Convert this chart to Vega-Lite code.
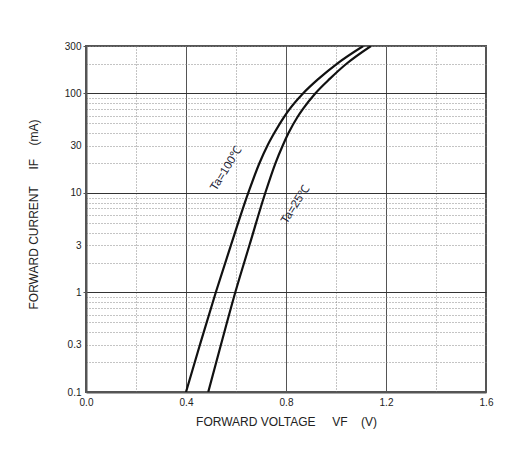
{
  "$schema": "https://vega.github.io/schema/vega-lite/v6.json",
  "width": 400,
  "height": 346,
  "autosize": "none",
  "padding": {"left": 86, "top": 46, "right": 40, "bottom": 74},
  "background": "white",
  "config": {
    "font": "Liberation Sans",
    "view": {"stroke": "#555", "strokeWidth": 2}
  },
  "datasets": {
    "curves": [
      {"t": "Ta=100℃", "v": 0.400, "i": 0.1},
      {"t": "Ta=100℃", "v": 0.456, "i": 0.3},
      {"t": "Ta=100℃", "v": 0.519, "i": 1},
      {"t": "Ta=100℃", "v": 0.580, "i": 3},
      {"t": "Ta=100℃", "v": 0.649, "i": 10},
      {"t": "Ta=100℃", "v": 0.694, "i": 20},
      {"t": "Ta=100℃", "v": 0.726, "i": 30},
      {"t": "Ta=100℃", "v": 0.753, "i": 40},
      {"t": "Ta=100℃", "v": 0.792, "i": 58},
      {"t": "Ta=100℃", "v": 0.815, "i": 70},
      {"t": "Ta=100℃", "v": 0.868, "i": 100},
      {"t": "Ta=100℃", "v": 0.931, "i": 141},
      {"t": "Ta=100℃", "v": 1.005, "i": 200},
      {"t": "Ta=100℃", "v": 1.109, "i": 300},
      {"t": "Ta=25℃", "v": 0.489, "i": 0.1},
      {"t": "Ta=25℃", "v": 0.540, "i": 0.3},
      {"t": "Ta=25℃", "v": 0.597, "i": 1},
      {"t": "Ta=25℃", "v": 0.654, "i": 3},
      {"t": "Ta=25℃", "v": 0.717, "i": 10},
      {"t": "Ta=25℃", "v": 0.758, "i": 20},
      {"t": "Ta=25℃", "v": 0.787, "i": 30},
      {"t": "Ta=25℃", "v": 0.810, "i": 40},
      {"t": "Ta=25℃", "v": 0.846, "i": 58},
      {"t": "Ta=25℃", "v": 0.868, "i": 70},
      {"t": "Ta=25℃", "v": 0.917, "i": 100},
      {"t": "Ta=25℃", "v": 0.976, "i": 141},
      {"t": "Ta=25℃", "v": 1.043, "i": 200},
      {"t": "Ta=25℃", "v": 1.140, "i": 300}
    ],
    "labels": [
      {"label": "Ta=100℃", "v": 0.562, "i": 17.4},
      {"label": "Ta=25℃", "v": 0.838, "i": 7.6}
    ]
  },
  "layer": [
    {
      "data": {"name": "curves"},
      "mark": {"type": "line", "color": "#111", "strokeWidth": 2.2, "interpolate": "monotone", "clip": true},
      "encoding": {
        "x": {
          "field": "v", "type": "quantitative",
          "scale": {"domain": [0, 1.6], "nice": false},
          "axis": {
            "values": [0, 0.2, 0.4, 0.6, 0.8, 1.0, 1.2, 1.4, 1.6],
            "format": ".1f",
            "labelExpr": "round(datum.value*10) % 4 == 0 ? datum.label : ''",
            "labelFontSize": 10,
            "labelColor": "#222",
            "labelPadding": 5,
            "labelFlush": false,
            "ticks": false,
            "domainColor": "#555",
            "domainWidth": 2,
            "grid": true,
            "gridColor": {"condition": {"test": "round(datum.value*10) % 4 == 0", "value": "#555"}, "value": "#888"},
            "gridDash": {"condition": {"test": "round(datum.value*10) % 4 == 0", "value": []}, "value": [1, 2]},
            "gridWidth": 1,
            "gridOpacity": 1,
            "title": "FORWARD VOLTAGE\u00a0\u00a0\u00a0\u00a0\u00a0VF\u00a0\u00a0\u00a0\u00a0(V)",
            "titleFontSize": 12,
            "titleFontWeight": "normal",
            "titleColor": "#222",
            "titleBaseline": "top",
            "titleY": 24
          }
        },
        "y": {
          "field": "i", "type": "quantitative",
          "scale": {"type": "log", "domain": [0.1, 300], "nice": false},
          "axis": {
            "values": [0.1, 0.2, 0.3, 0.4, 0.5, 0.6, 0.7, 0.8, 0.9, 1, 2, 3, 4, 5, 6, 7, 8, 9, 10, 20, 30, 40, 50, 60, 70, 80, 90, 100, 200, 300],
            "format": "~g",
            "labelExpr": "indexof([0.1, 0.3, 1, 3, 10, 30, 100, 300], datum.value) >= 0 ? datum.label : ''",
            "labelFontSize": 10,
            "labelColor": "#222",
            "labelPadding": 2,
            "labelFlush": false,
            "tickSize": 3,
            "tickColor": "#555",
            "tickOpacity": {"condition": {"test": "indexof([1, 10, 100, 300], datum.value) >= 0", "value": 1}, "value": 0},
            "domainColor": "#555",
            "domainWidth": 2,
            "grid": true,
            "gridColor": {"condition": {"test": "datum.value == 1 || datum.value == 10 || datum.value == 100", "value": "#333"}, "value": "#888"},
            "gridDash": {"condition": {"test": "datum.value == 1 || datum.value == 10 || datum.value == 100", "value": []}, "value": [1, 2]},
            "gridWidth": 1,
            "gridOpacity": 1,
            "title": "FORWARD CURRENT\u00a0\u00a0\u00a0\u00a0\u00a0IF\u00a0\u00a0\u00a0\u00a0(mA)",
            "titleFontSize": 12,
            "titleFontWeight": "normal",
            "titleColor": "#222",
            "titleBaseline": "bottom",
            "titleX": -46,
            "titleY": 168
          }
        },
        "detail": {"field": "t", "type": "nominal"}
      }
    },
    {
      "data": {"name": "labels"},
      "mark": {"type": "text", "angle": -58, "fontSize": 11.5, "color": "#223", "align": "center", "baseline": "middle"},
      "encoding": {
        "x": {"field": "v", "type": "quantitative"},
        "y": {"field": "i", "type": "quantitative"},
        "text": {"field": "label", "type": "nominal"}
      }
    }
  ]
}
